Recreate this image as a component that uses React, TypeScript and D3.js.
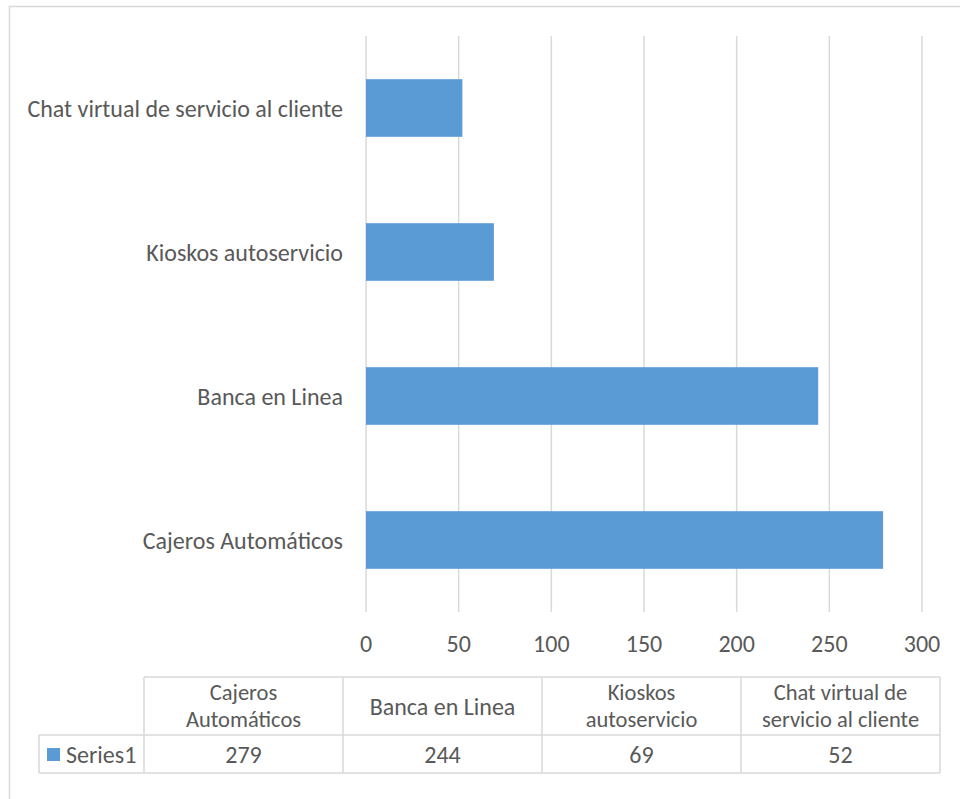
import React from "react";
import * as d3 from "d3";

const categories = [
  "Cajeros Automáticos",
  "Banca en Linea",
  "Kioskos autoservicio",
  "Chat virtual de servicio al cliente",
];
const values = [279, 244, 69, 52];
const tickValues = [0, 50, 100, 150, 200, 250, 300];
const headerLines = [
  ["Cajeros", "Automáticos"],
  ["Banca en Linea"],
  ["Kioskos", "autoservicio"],
  ["Chat virtual de", "servicio al cliente"],
];
const seriesName = "Series1";

const W = 960;
const H = 799;
const FONT = "Calibri, Carlito, Lato, 'Open Sans', sans-serif";
const TEXT = "#595959";
const GRID = "#d9d9d9";
const BAR = "#5B9BD5";

export default function App() {
  const x = d3.scaleLinear().domain([0, 300]).range([366, 922]);
  const y = d3
    .scaleBand<string>()
    .domain([...categories].reverse())
    .range([36, 612])
    .paddingInner(0.6)
    .paddingOuter(0.3);

  const colX = d3
    .scaleBand<string>()
    .domain(categories)
    .range([144, 940]);
  const headerTop = 677;
  const rowTop = 735;
  const rowBottom = 773;
  const fs = 24;
  const hfs = 22.5;

  return (
    <svg
      width={W}
      height={H}
      style={{ position: "absolute", left: 0, top: 0 }}
      fontFamily={FONT}
    >
      <rect x={0} y={0} width={W} height={H} fill="#fff" />
      <rect x={9.5} y={6.5} width={W + 10} height={H + 10} fill="none" stroke={GRID} strokeWidth={1.5} />
      {tickValues.map((t) => (
        <g key={t}>
          <line x1={x(t)} x2={x(t)} y1={36} y2={612} stroke={GRID} strokeWidth={1.5} />
          <text x={x(t)} y={643} textAnchor="middle" dominantBaseline="central" fontSize={fs} fill={TEXT}>
            {t}
          </text>
        </g>
      ))}
      {categories.map((c, i) => (
        <g key={c}>
          <rect
            x={x(0)}
            y={y(c)!}
            width={x(values[i]) - x(0)}
            height={y.bandwidth()}
            fill={BAR}
          />
          <text
            x={343}
            y={y(c)! + y.bandwidth() / 2}
            textAnchor="end"
            dominantBaseline="central"
            fontSize={fs}
            fill={TEXT}
          >
            {c}
          </text>
        </g>
      ))}
      {/* data table */}
      <g stroke={GRID} strokeWidth={1.5} fill="none">
        <line x1={144} x2={940} y1={headerTop} y2={headerTop} />
        <line x1={39} x2={940} y1={rowTop} y2={rowTop} />
        <line x1={39} x2={940} y1={rowBottom} y2={rowBottom} />
        <line x1={39} x2={39} y1={rowTop} y2={rowBottom} />
        {categories.map((c) => (
          <line key={c} x1={colX(c)!} x2={colX(c)!} y1={headerTop} y2={rowBottom} />
        ))}
        <line x1={940} x2={940} y1={headerTop} y2={rowBottom} />
      </g>
      {categories.map((c, i) => {
        const cx = colX(c)! + colX.bandwidth() / 2;
        const lines = headerLines[i];
        const mid = (headerTop + rowTop) / 2;
        const lh = 27;
        return (
          <g key={c}>
            {lines.map((l, j) => (
              <text
                key={j}
                x={cx}
                y={mid + (j - (lines.length - 1) / 2) * lh}
                textAnchor="middle"
                dominantBaseline="central"
                fontSize={lines.length > 1 ? hfs : fs}
                fill={TEXT}
              >
                {l}
              </text>
            ))}
            <text
              x={cx}
              y={(rowTop + rowBottom) / 2}
              textAnchor="middle"
              dominantBaseline="central"
              fontSize={fs}
              fill={TEXT}
            >
              {values[i]}
            </text>
          </g>
        );
      })}
      <rect x={47} y={748} width={13} height={13} fill={BAR} />
      <text x={66} y={(rowTop + rowBottom) / 2} dominantBaseline="central" fontSize={fs} fill={TEXT}>
        {seriesName}
      </text>
    </svg>
  );
}
